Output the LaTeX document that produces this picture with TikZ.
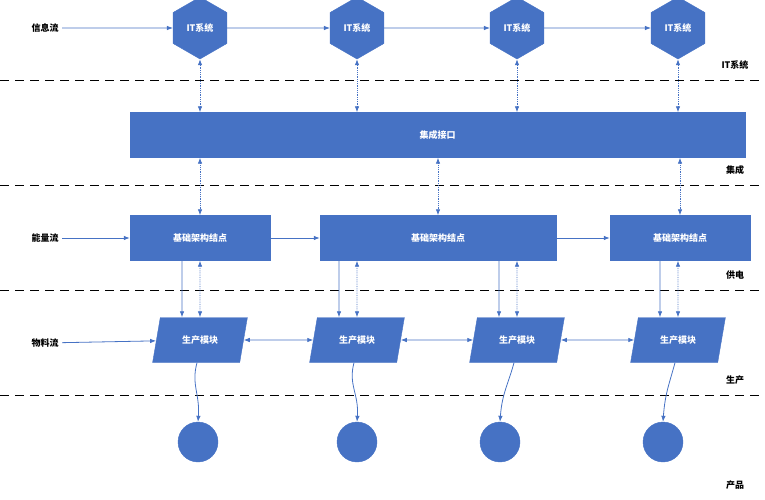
\documentclass[tikz,border=0pt]{standalone}
\usepackage{fontspec}
\setmainfont{Noto Sans CJK SC}
\usetikzlibrary{shapes.geometric,arrows.meta}
\definecolor{itblue}{HTML}{4672C4}
\tikzset{
  box/.style={fill=itblue,draw=itblue,text=white,font=\bfseries\small,minimum height=45pt},
  hexa/.style={box,regular polygon,regular polygon sides=6,shape border rotate=30,minimum size=62pt,inner sep=0pt},
  para/.style={box,trapezium,trapezium left angle=75,trapezium right angle=105,trapezium stretches=true,minimum width=95pt},
  prod/.style={circle,fill=itblue,draw=itblue,minimum size=40pt},
  flow/.style={itblue,thick,-{Latex[length=6pt]}},
  link/.style={itblue,thick,densely dotted,{Latex[length=6pt]}-{Latex[length=6pt]}},
  swap/.style={itblue,thick,{Latex[length=6pt]}-{Latex[length=6pt]}},
  lane/.style={thick,dash pattern=on 9pt off 6pt},
  tag/.style={font=\bfseries\small}
}
\begin{document}
\begin{tikzpicture}[x=1pt,y=-1pt]
\useasboundingbox (0,0) rectangle (765,500);
% lanes
\foreach \y in {80,185,290,395}
  \draw[lane] (0,\y) -- (765,\y);
% left and right tags
\node[tag] (info) at (45,28) {信息流};
\node[tag] (energy) at (45,238) {能量流};
\node[tag] (material) at (45,343) {物料流};
\node[tag] at (735,65) {IT系统};
\node[tag] at (735,170) {集成};
\node[tag] at (735,275) {供电};
\node[tag] at (735,380) {生产};
\node[tag] at (735,485) {产品};
% IT systems
\foreach \n/\x in {1/200,2/357,3/517,4/678}
  \node[hexa] (it\n) at (\x,28) {IT系统};
\draw[flow] (info) -- (it1);
\draw[flow] (it1) -- (it2);
\draw[flow] (it2) -- (it3);
\draw[flow] (it3) -- (it4);
% integration bar
\node[box,minimum width=615pt] (bus) at (437.5,135) {集成接口};
\foreach \n in {1,...,4}
  \draw[link] (it\n.south) -- (it\n.south |- bus.north);
% infrastructure nodes
\node[box,minimum width=140pt] (b1) at (200,238) {基础架构结点};
\node[box,minimum width=236pt] (b2) at (438,238) {基础架构结点};
\node[box,minimum width=140pt] (b3) at (680,238) {基础架构结点};
\draw[flow] (energy) -- (b1);
\draw[flow] (b1) -- (b2);
\draw[flow] (b2) -- (b3);
\draw[link] (bus.south -| b1) -- (b1.north);
\draw[link] (bus.south -| b2) -- (b2.north);
\draw[link] (bus.south -| b3) -- (b3.north);
% production modules
\foreach \n/\x in {1/200,2/357,3/517,4/678}
  \node[para] (p\n) at (\x,340) {生产模块};
\draw[flow] (material) -- (p1);
\draw[swap] (p1) -- (p2);
\draw[swap] (p2) -- (p3);
\draw[swap] (p3) -- (p4);
% power feeds
\foreach \b/\p in {b1/p1,b2/p2,b2/p3,b3/p4}{
  \draw[flow] ([xshift=-18pt]\b.south -| \p) -- ([xshift=-18pt]\p.north);
  \draw[link] (\b.south -| \p) -- (\p.north);
}
% products
\foreach \n/\x in {1/198,2/357,3/500,4/663}{
  \node[prod] (c\n) at (\x,442) {};
  \draw[flow] ([xshift=-3pt]p\n.south) .. controls +(-6,22) and +(2,-28) .. (c\n.north);
}
\end{tikzpicture}
\end{document}
